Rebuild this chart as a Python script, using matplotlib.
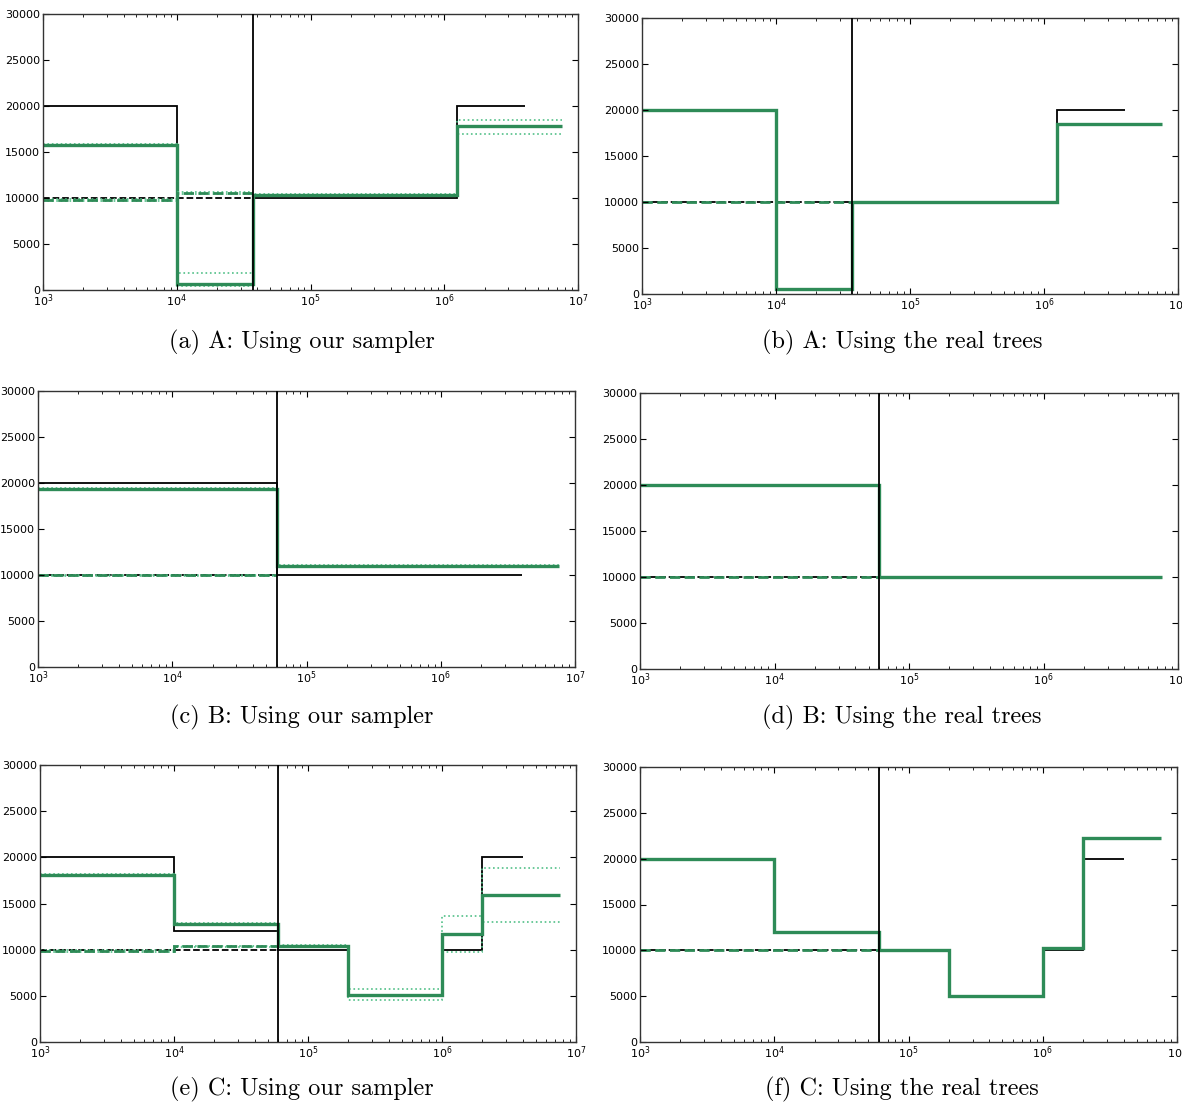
import matplotlib
matplotlib.use("Agg")
import matplotlib.pyplot as plt
import numpy as np

# true population-size histories (black) and estimates (green)
# scenario A
a_true_edges = [1e3, 1e4, 3.7e4, 1.25e6, 4e6]
a_true_pop1 = [20000, 500, 10000, 20000]
a_true_pop2_edges = [1e3, 3.7e4]
a_true_pop2 = [10000]
a_split = 3.7e4
a_est_edges = [1e3, 1e4, 3.7e4, 1.25e6, 7.6e6]
a_samp_pop1 = [15800, 600, 10300, 17800]
a_samp_pop1_hi = [15900, 1800, 10400, 18500]
a_samp_pop1_lo = [15700, 450, 10200, 17000]
a_samp_pop2_edges = [1e3, 1e4, 3.7e4]
a_samp_pop2 = [9800, 10500]
a_samp_pop2_hi = [9900, 10600]
a_samp_pop2_lo = [9700, 10400]
a_real_pop1 = [20000, 500, 10000, 18500]
a_real_pop2 = [10000, 10000]

# scenario B
b_true_edges = [1e3, 6e4, 4e6]
b_true_pop1 = [20000, 10000]
b_true_pop2_edges = [1e3, 6e4]
b_true_pop2 = [10000]
b_split = 6e4
b_est_edges = [1e3, 6e4, 7.6e6]
b_samp_pop1 = [19400, 11000]
b_samp_pop1_hi = [19500, 11100]
b_samp_pop1_lo = [19300, 10900]
b_samp_pop2_edges = [1e3, 6e4]
b_samp_pop2 = [9950]
b_samp_pop2_hi = [10050]
b_samp_pop2_lo = [9850]
b_real_pop1 = [20000, 10000]
b_real_pop2 = [10000]

# scenario C
c_true_edges = [1e3, 1e4, 6e4, 2e5, 1e6, 2e6, 4e6]
c_true_pop1 = [20000, 12000, 10000, 5000, 10000, 20000]
c_true_pop2_edges = [1e3, 6e4]
c_true_pop2 = [10000]
c_split = 6e4
c_est_edges = [1e3, 1e4, 6e4, 2e5, 1e6, 2e6, 7.6e6]
c_samp_pop1 = [18100, 12800, 10400, 5100, 11700, 15900]
c_samp_pop1_hi = [18200, 12900, 10500, 5700, 13700, 18800]
c_samp_pop1_lo = [18000, 12700, 10300, 4600, 9800, 13000]
c_samp_pop2_edges = [1e3, 1e4, 6e4]
c_samp_pop2 = [9850, 10350]
c_samp_pop2_hi = [9950, 10450]
c_samp_pop2_lo = [9750, 10250]
c_real_pop1 = [20000, 12000, 10000, 5000, 10300, 22300]
c_real_pop2 = [10000, 10000]

captions = ["(a) A: Using our sampler", "(b) A: Using the real trees",
            "(c) B: Using our sampler", "(d) B: Using the real trees",
            "(e) C: Using our sampler", "(f) C: Using the real trees"]

W, H = 1182, 1103
# axes boxes in pixels: left, top, right, bottom
boxes = [(43, 14, 578, 290), (642, 18, 1178, 294),
         (38, 391, 575, 667), (640, 393, 1178, 669),
         (40, 765, 576, 1042), (640, 767, 1177, 1042)]
caption_y = [342, 342, 717, 717, 1089, 1089]

GREEN = "#2e8b57"
LIGHT = "#52c088"

fig = plt.figure(figsize=(W / 100, H / 100), dpi=100)


def make_axes(box):
    l, t, r, b = box
    ax = fig.add_axes([l / W, 1 - b / H, (r - l) / W, (b - t) / H])
    ax.set_xscale("log")
    ax.set_xlim(1e3, 1e7)
    ax.set_ylim(0, 30000)
    ax.set_yticks(np.arange(0, 30001, 5000))
    ax.tick_params(which="both", direction="in", top=True, right=True,
                   labelsize=8)
    ax.tick_params(which="major", length=4, width=0.8)
    ax.tick_params(which="minor", length=2, width=0.6)
    ax.tick_params(axis="x", pad=2)
    ax.tick_params(axis="y", pad=2)
    for s in ax.spines.values():
        s.set_linewidth(1.0)
        s.set_color("#333333")
    return ax


def draw_truth(ax, edges, pop1, edges2, pop2, split):
    ax.stairs(pop1, edges, baseline=None, color="black", lw=1.3)
    ax.stairs(pop2, edges2, baseline=None, color="black", lw=1.3, ls="--")
    ax.axvline(split, color="black", lw=1.3, zorder=4)


scen = [
    (a_true_edges, a_true_pop1, a_true_pop2_edges, a_true_pop2, a_split,
     a_est_edges, a_samp_pop1, a_samp_pop1_hi, a_samp_pop1_lo,
     a_samp_pop2_edges, a_samp_pop2, a_samp_pop2_hi, a_samp_pop2_lo,
     a_real_pop1, a_real_pop2),
    (b_true_edges, b_true_pop1, b_true_pop2_edges, b_true_pop2, b_split,
     b_est_edges, b_samp_pop1, b_samp_pop1_hi, b_samp_pop1_lo,
     b_samp_pop2_edges, b_samp_pop2, b_samp_pop2_hi, b_samp_pop2_lo,
     b_real_pop1, b_real_pop2),
    (c_true_edges, c_true_pop1, c_true_pop2_edges, c_true_pop2, c_split,
     c_est_edges, c_samp_pop1, c_samp_pop1_hi, c_samp_pop1_lo,
     c_samp_pop2_edges, c_samp_pop2, c_samp_pop2_hi, c_samp_pop2_lo,
     c_real_pop1, c_real_pop2),
]

for row, sc in enumerate(scen):
    (t_edges, t_p1, t_e2, t_p2, split, e_edges, s_p1, s_hi, s_lo,
     s_e2, s_p2, s2_hi, s2_lo, r_p1, r_p2) = sc

    # left: sampler estimates with dotted intervals
    ax = make_axes(boxes[2 * row])
    draw_truth(ax, t_edges, t_p1, t_e2, t_p2, split)
    ax.stairs(s_hi, e_edges, baseline=None, color=LIGHT, lw=1.2, ls=":")
    ax.stairs(s_lo, e_edges, baseline=None, color=LIGHT, lw=1.2, ls=":")
    ax.stairs(s_p1, e_edges, baseline=None, color=GREEN, lw=2.4)
    ax.stairs(s2_hi, s_e2, baseline=None, color=LIGHT, lw=1.2, ls=":")
    ax.stairs(s2_lo, s_e2, baseline=None, color=LIGHT, lw=1.2, ls=":")
    ax.stairs(s_p2, s_e2, baseline=None, color=GREEN, lw=2.0, ls="--")

    # right: estimates from the real trees
    ax = make_axes(boxes[2 * row + 1])
    draw_truth(ax, t_edges, t_p1, t_e2, t_p2, split)
    ax.stairs(r_p1, e_edges, baseline=None, color=GREEN, lw=2.4)
    ax.stairs(r_p2, s_e2[:len(r_p2) + 1], baseline=None, color=GREEN,
              lw=2.0, ls="--")

for i, cap in enumerate(captions):
    cx = 302 if i % 2 == 0 else 902
    fig.text(cx / W, 1 - caption_y[i] / H, cap, ha="center", va="center",
             family="cmr10", fontsize=17.5)

fig.savefig("out.png", dpi=100)
